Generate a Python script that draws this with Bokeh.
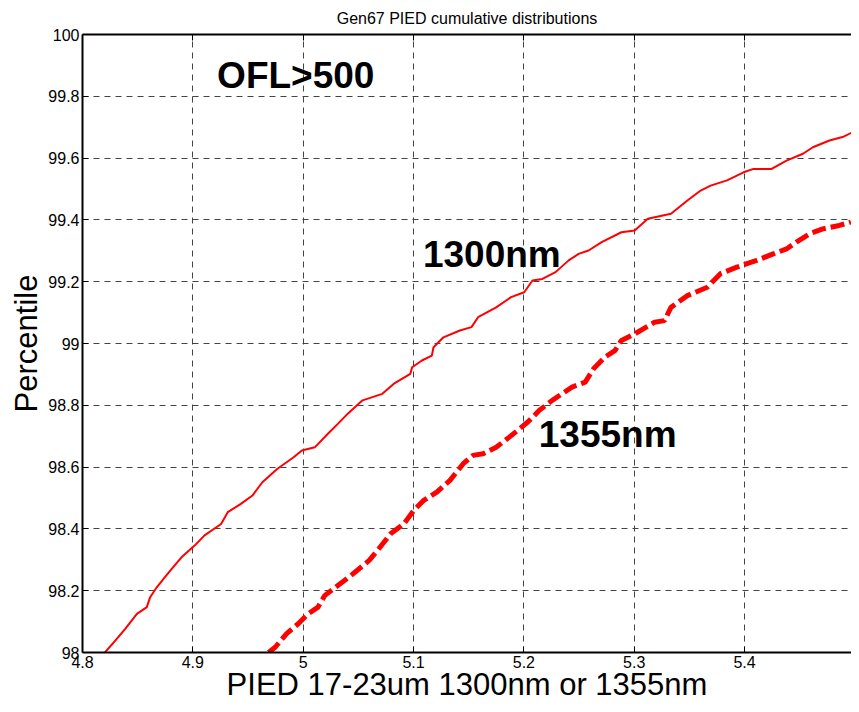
from bokeh.plotting import figure
from bokeh.models import Range1d, LinearAxis, FixedTicker, Label
from bokeh.embed import file_html
from bokeh.resources import INLINE

# ---- data ----
x_1300 = [4.8203, 4.8299, 4.8389, 4.8493, 4.8583, 4.8613, 4.8673, 4.8747, 4.8822, 4.8897,
          4.9016, 4.9106, 4.9256, 4.9316, 4.9435, 4.9540, 4.9630, 4.9764, 4.9913, 4.9988,
          5.0105, 5.0224, 5.0314, 5.0404, 5.0538, 5.0717, 5.0822, 5.0971, 5.0987, 5.1076,
          5.1166, 5.1181, 5.1271, 5.1420, 5.1525, 5.1585, 5.1749, 5.1884, 5.2003, 5.2078,
          5.2168, 5.2287, 5.2406, 5.2496, 5.2586, 5.2705, 5.2884, 5.3004, 5.3123, 5.3333,
          5.3482, 5.3602, 5.3692, 5.3841, 5.3991, 5.4081, 5.4245, 5.4380, 5.4529, 5.4619,
          5.4769, 5.4888, 5.4969]
y_1300 = [98.000, 98.039, 98.077, 98.125, 98.147, 98.179, 98.211, 98.244, 98.276, 98.308,
          98.346, 98.379, 98.416, 98.454, 98.481, 98.508, 98.551, 98.594, 98.632, 98.654,
          98.664, 98.708, 98.740, 98.773, 98.816, 98.837, 98.870, 98.902, 98.923, 98.945,
          98.961, 98.988, 99.020, 99.042, 99.053, 99.085, 99.117, 99.150, 99.166, 99.204,
          99.209, 99.231, 99.269, 99.290, 99.301, 99.328, 99.360, 99.366, 99.404, 99.420,
          99.463, 99.495, 99.511, 99.528, 99.554, 99.565, 99.565, 99.592, 99.614, 99.635,
          99.657, 99.668, 99.682]

x_1355 = [4.9686, 4.9746, 4.9850, 4.9955, 5.0045, 5.0135, 5.0194, 5.0314, 5.0433, 5.0598,
          5.0673, 5.0792, 5.0912, 5.1002, 5.1091, 5.1211, 5.1330, 5.1450, 5.1539, 5.1629,
          5.1749, 5.1868, 5.2033, 5.2138, 5.2257, 5.2436, 5.2556, 5.2631, 5.2735, 5.2825,
          5.2884, 5.3004, 5.3184, 5.3274, 5.3333, 5.3482, 5.3662, 5.3781, 5.3930, 5.4110,
          5.4260, 5.4380, 5.4469, 5.4589, 5.4709, 5.4858, 5.4963]
y_1355 = [98.000, 98.017, 98.061, 98.093, 98.125, 98.147, 98.184, 98.217, 98.249, 98.298,
          98.330, 98.384, 98.416, 98.460, 98.492, 98.519, 98.557, 98.611, 98.638, 98.643,
          98.664, 98.697, 98.745, 98.783, 98.816, 98.859, 98.875, 98.918, 98.956, 98.977,
          99.010, 99.031, 99.069, 99.074, 99.117, 99.155, 99.182, 99.226, 99.247, 99.269,
          99.290, 99.306, 99.328, 99.355, 99.371, 99.382, 99.393]

x_ticks = [4.8, 4.9, 5.0, 5.1, 5.2, 5.3, 5.4]
x_tick_labels = ["4.8", "4.9", "5", "5.1", "5.2", "5.3", "5.4"]
y_ticks = [98.0, 98.2, 98.4, 98.6, 98.8, 99.0, 99.2, 99.4, 99.6, 99.8, 100.0]
y_tick_labels = ["98", "98.2", "98.4", "98.6", "98.8", "99", "99.2", "99.4", "99.6", "99.8", "100"]

title_text = "Gen67 PIED cumulative distributions"
x_label = "PIED 17-23um 1300nm or 1355nm"
y_label = "Percentile"
annotations = ["OFL>500", "1300nm", "1355nm"]

FONT = "Liberation Sans"

p = figure(width=851, height=704, output_backend="svg", toolbar_location=None,
           x_range=Range1d(4.8, 5.4969), y_range=Range1d(98.0, 100.0),
           min_border_left=82, min_border_right=0, min_border_top=34, min_border_bottom=52,
           background_fill_color="white", border_fill_color="white")
p.outline_line_color = None

p.title.text = title_text
p.title.align = "center"
p.title.vertical_align = "top"
p.title.text_font = FONT
p.title.text_font_size = "16px"
p.title.text_font_style = "normal"
p.title.text_color = "black"
p.title.standoff = 12

# axes
xa = p.xaxis[0]
xa.ticker = FixedTicker(ticks=x_ticks)
xa.major_label_overrides = {t: l for t, l in zip(x_ticks, x_tick_labels)}
ya = p.yaxis[0]
ya.ticker = FixedTicker(ticks=y_ticks)
ya.major_label_overrides = {t: l for t, l in zip(y_ticks, y_tick_labels)}
for ax in (xa, ya):
    ax.axis_line_color = "black"
    ax.axis_line_width = 2
    ax.major_tick_in = 6
    ax.major_tick_out = 0
    ax.major_tick_line_color = "black"
    ax.minor_tick_line_color = None
    ax.major_label_text_font = FONT
    ax.major_label_text_font_size = "16px"
    ax.major_label_text_color = "black"
    ax.major_label_standoff = 3
    ax.axis_label_text_font = FONT
    ax.axis_label_text_font_style = "normal"
    ax.axis_label_text_color = "black"
    ax.axis_label_text_font_size = "31px"
xa.axis_label = x_label
xa.axis_label_standoff = -4
ya.axis_label = y_label
ya.axis_label_standoff = 1

top = LinearAxis(ticker=FixedTicker(ticks=x_ticks), major_label_text_font_size="0px",
                 major_label_standoff=0, axis_line_width=2, axis_line_color="black",
                 major_tick_in=6, major_tick_out=0, minor_tick_line_color=None)
p.add_layout(top, "above")

# grid
for g in (p.xgrid[0], p.ygrid[0]):
    g.grid_line_color = "#444444"
    g.grid_line_dash = "6 5"
    g.grid_line_width = 1
p.xgrid[0].ticker = FixedTicker(ticks=x_ticks)
p.ygrid[0].ticker = FixedTicker(ticks=y_ticks)

# curves
p.line(x_1300, y_1300, line_color="#ff0000", line_width=2)
p.line(x_1355, y_1355, line_color="#ff0000", line_width=5, line_dash="14 5")

# annotations
ann_pos = [(4.922, 99.867), (5.1085, 99.287), (5.2135, 98.707)]
for txt, (ax_, ay_) in zip(annotations, ann_pos):
    p.add_layout(Label(x=ax_, y=ay_, text=txt, text_font=FONT, text_font_style="bold",
                       text_font_size="37px", text_color="black", text_baseline="alphabetic",
                       text_align="left"))

open("out.html", "w").write(file_html(p, INLINE))
